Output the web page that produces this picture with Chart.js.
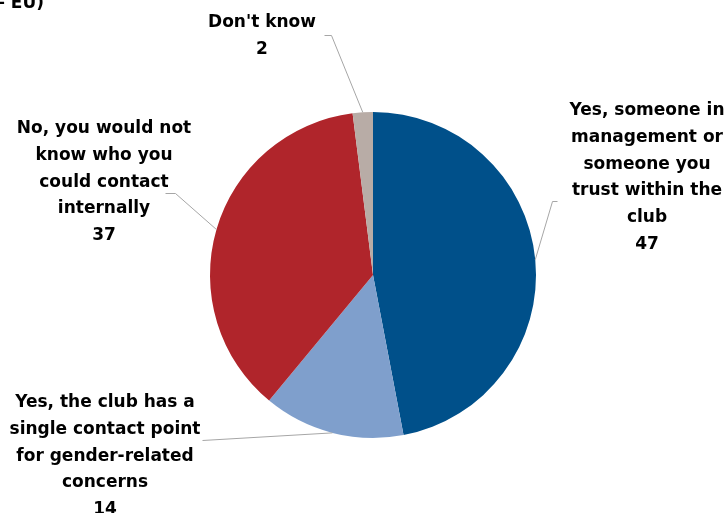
<!DOCTYPE html>
<html>
<head>
<meta charset="utf-8">
<script src="https://cdn.jsdelivr.net/npm/chart.js@4"></script>
<style>
  html, body { margin: 0; padding: 0; background: #fff; }
  #wrap { position: relative; width: 725px; height: 513px; }
</style>
</head>
<body>
<div id="wrap"><canvas id="chart" width="725" height="513"></canvas></div>
<script>
// Data
const LABELS = [
    'Yes, someone in management or someone you trust within the club',
    'Yes, the club has a single contact point for gender-related concerns',
    'No, you would not know who you could contact internally',
    "Don't know"
];
const VALUES = [47, 14, 37, 2];
const COLORS = ['#00508a', '#7f9fcc', '#b0252b', '#b8aca6'];

// Label text lines as wrapped in the picture
const LABEL_LINES = [
    ['Yes, someone in', 'management or', 'someone you', 'trust within the', 'club'],
    ['Yes, the club has a', 'single contact point', 'for gender-related', 'concerns'],
    ['No, you would not', 'know who you', 'could contact', 'internally'],
    ["Don't know"]
];

// Label layout: text centre x, first baseline y, leader elbow and end
const LABEL_LAYOUT = [
    { x: 647, y: 115, elbow: [552, 201], end: [557, 201] },
    { x: 105, y: 407, elbow: [202, 440], end: [202, 440] },
    { x: 104, y: 133, elbow: [175, 193], end: [165, 193] },
    { x: 262, y: 27, elbow: [331, 35], end: [324, 35] }
];

const FONT = 'bold 17px "DejaVu Sans"';
const LINE_H = 26.8;

const labelPlugin = {
    id: 'sliceLabels',
    afterDatasetsDraw(chart) {
        const ctx = chart.ctx;
        const meta = chart.getDatasetMeta(0);
        ctx.save();

        // cut-off title at the top
        ctx.font = FONT;
        ctx.fillStyle = '#000';
        ctx.textAlign = 'right';
        ctx.textBaseline = 'alphabetic';
        ctx.fillText('– EU)', 44, 8);

        meta.data.forEach((arc, i) => {
            const mid = (arc.startAngle + arc.endAngle) / 2;
            const px = arc.x + Math.cos(mid) * arc.outerRadius;
            const py = arc.y + Math.sin(mid) * arc.outerRadius;
            const lay = LABEL_LAYOUT[i];

            ctx.strokeStyle = '#a6a6a6';
            ctx.lineWidth = 1;
            ctx.beginPath();
            ctx.moveTo(px, py);
            ctx.lineTo(lay.elbow[0] + 0.5, lay.elbow[1] + 0.5);
            ctx.lineTo(lay.end[0] + 0.5, lay.end[1] + 0.5);
            ctx.stroke();

            ctx.fillStyle = '#000';
            ctx.font = FONT;
            ctx.textAlign = 'center';
            const lines = LABEL_LINES[i].concat(String(VALUES[i]));
            lines.forEach((t, k) => {
                ctx.fillText(t, lay.x, lay.y + k * LINE_H);
            });
        });
        ctx.restore();
    }
};

new Chart(document.getElementById('chart').getContext('2d'), {
    type: 'pie',
    data: {
        labels: LABELS,
        datasets: [{
            data: VALUES,
            backgroundColor: COLORS,
            borderWidth: 0
        }]
    },
    options: {
        responsive: false,
        animation: false,
        layout: { padding: { top: 112, bottom: 75, left: 210, right: 189 } },
        plugins: {
            legend: { display: false },
            tooltip: { enabled: false }
        }
    },
    plugins: [labelPlugin]
});
</script>
</body>
</html>
